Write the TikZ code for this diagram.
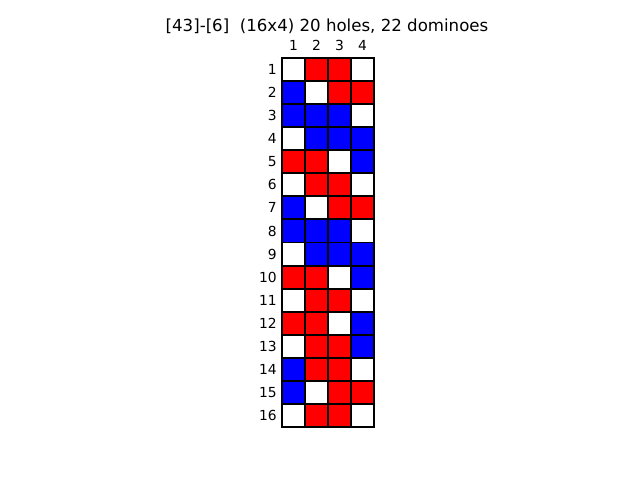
\documentclass[tikz,border=0pt]{standalone}
\usepackage{fontspec}
\setmainfont{DejaVu Sans}
\begin{document}
\begin{tikzpicture}[x=0.01in,y=-0.01in,
  cW/.style={fill=white},
  cR/.style={fill=red},
  cB/.style={fill=blue},
  gridline/.style={draw=black,line width=1.4pt},
  tick/.style={font=\fontsize{10}{12}\selectfont,inner sep=0pt},
  ttl/.style={font=\fontsize{12}{14}\selectfont,inner sep=0pt}]
\useasboundingbox (0,0) rectangle (640,480);
\fill[white] (0,0) rectangle (640,480);
\node[ttl] (title) at (327,26) {[43]-[6]\ \ (16x4) 20 holes, 22 dominoes};
\foreach \r/\a/\b/\cc/\d in {1/W/R/R/W,2/B/W/R/R,3/B/B/B/W,4/W/B/B/B,5/R/R/W/B,6/W/R/R/W,7/B/W/R/R,8/B/B/B/W,9/W/B/B/B,10/R/R/W/B,11/W/R/R/W,12/R/R/W/B,13/W/R/R/B,14/B/R/R/W,15/B/W/R/R,16/W/R/R/W}{
  \pgfmathsetmacro{\y}{58+23.0625*(\r-1)}
  \pgfmathsetmacro{\yy}{\y+23.0625}
  \fill[c\a] (282,\y) rectangle (305,\yy);
  \fill[c\b] (305,\y) rectangle (328,\yy);
  \fill[c\cc] (328,\y) rectangle (351,\yy);
  \fill[c\d] (351,\y) rectangle (374,\yy);
  \pgfmathsetmacro{\ym}{\y+11.53}
  \node[tick,anchor=east] (row\r) at (277,\ym) {\r};
}
\foreach \r in {0,...,16}{
  \pgfmathsetmacro{\y}{58+23.0625*\r}
  \draw[gridline] (282,\y) -- (374,\y);
}
\foreach \c in {0,...,4}{
  \pgfmathsetmacro{\x}{282+23*\c}
  \draw[gridline] (\x,58) -- (\x,427);
}
\draw[gridline] (282,58) rectangle (374,427);
\foreach \c in {1,...,4}{
  \pgfmathsetmacro{\x}{293.5+23*(\c-1)}
  \node[tick] (col\c) at (\x,45) {\c};
}
\end{tikzpicture}
\end{document}
